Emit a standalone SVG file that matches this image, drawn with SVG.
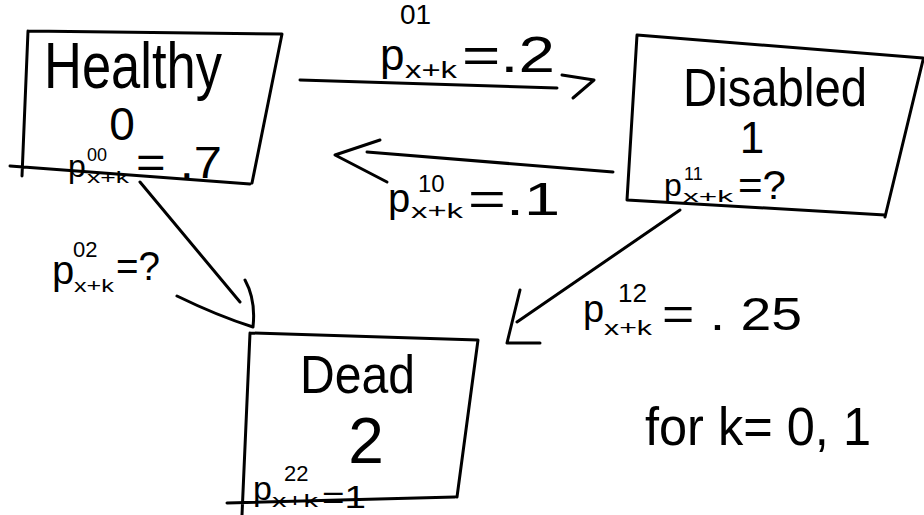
<svg xmlns="http://www.w3.org/2000/svg" width="924" height="515" viewBox="0 0 924 515">
<style>
.ln{fill:none;stroke:#000;stroke-width:3;stroke-linecap:round;stroke-linejoin:round}
.t{font-family:"Liberation Sans",Arial,sans-serif;fill:#000}
</style>
<rect width="924" height="515" fill="#fff"/>
<g id="connectors">
  <g id="edge-01">
    <path class="ln" d="M300,80 L557,88"/>
    <path class="ln" d="M562,75 L594,80 L573,98"/>
    <text class="t" x="380" y="70" font-size="44">p</text>
    <text class="t" x="400" y="24" font-size="28">01</text>
    <text class="t" x="405" y="78" font-size="24" textLength="52" lengthAdjust="spacingAndGlyphs">x+k</text>
    <text class="t" x="462" y="72" font-size="50" textLength="93" lengthAdjust="spacingAndGlyphs">=.2</text>
  </g>
  <g id="edge-10">
    <path class="ln" d="M367,152 L613,172"/>
    <path class="ln" d="M380,140 L335,155 L387,182"/>
    <text class="t" x="388" y="212" font-size="40">p</text>
    <text class="t" x="418" y="192" font-size="24">10</text>
    <text class="t" x="411" y="218" font-size="20" textLength="52" lengthAdjust="spacingAndGlyphs">x+k</text>
    <text class="t" x="468" y="215" font-size="46" textLength="92" lengthAdjust="spacingAndGlyphs">=.1</text>
  </g>
  <g id="edge-02">
    <path class="ln" d="M140,182 L240,302"/>
    <path class="ln" d="M177,296 Q218,316 253,327 Q256,300 245,280"/>
    <text class="t" x="52" y="284" font-size="40">p</text>
    <text class="t" x="73" y="257" font-size="22">02</text>
    <text class="t" x="74" y="292" font-size="19" textLength="40" lengthAdjust="spacingAndGlyphs">x+k</text>
    <text class="t" x="116" y="280" font-size="40" textLength="44" lengthAdjust="spacingAndGlyphs">=?</text>
  </g>
  <g id="edge-12">
    <path class="ln" d="M680,210 L517,322"/>
    <path class="ln" d="M520,290 L507,343 L540,343"/>
    <text class="t" x="583" y="322" font-size="38">p</text>
    <text class="t" x="618" y="302" font-size="26">12</text>
    <text class="t" x="604" y="335" font-size="21" textLength="48" lengthAdjust="spacingAndGlyphs">x+k</text>
    <text class="t" x="662" y="330" font-size="46" textLength="140" lengthAdjust="spacingAndGlyphs">= . 25</text>
  </g>
</g>
<g id="healthy">
  <path class="ln" d="M28,31 L282,34 L252,183 M10,166 L250,184 M28,31 L22,176"/>
  <text class="t" x="44" y="88" font-size="64" textLength="178" lengthAdjust="spacingAndGlyphs">Healthy</text>
  <text class="t" x="122" y="140" font-size="46" text-anchor="middle">0</text>
  <text class="t" x="68" y="177" font-size="32">p</text>
  <text class="t" x="87" y="161" font-size="18">00</text>
  <text class="t" x="87" y="183" font-size="17" textLength="42" lengthAdjust="spacingAndGlyphs">x+k</text>
  <text class="t" x="136" y="178" font-size="44" textLength="86" lengthAdjust="spacingAndGlyphs">= .7</text>
</g>
<g id="disabled">
  <path class="ln" d="M637,35 L923,58 M923,60 L885,217 M627,200 L885,215 M637,35 L627,200"/>
  <text class="t" x="683" y="106" font-size="54" textLength="184" lengthAdjust="spacingAndGlyphs">Disabled</text>
  <text class="t" x="752" y="153" font-size="44" text-anchor="middle">1</text>
  <text class="t" x="664" y="196" font-size="32">p</text>
  <text class="t" x="684" y="180" font-size="18">11</text>
  <text class="t" x="683" y="202" font-size="17" textLength="50" lengthAdjust="spacingAndGlyphs">x+k</text>
  <text class="t" x="738" y="199" font-size="40" textLength="48" lengthAdjust="spacingAndGlyphs">=?</text>
</g>
<g id="dead">
  <path class="ln" d="M250,333 L478,340 L457,497 M227,503 L455,497 M250,333 L242,515"/>
  <text class="t" x="300" y="393" font-size="54" textLength="115" lengthAdjust="spacingAndGlyphs">Dead</text>
  <text class="t" x="366" y="463" font-size="64" text-anchor="middle">2</text>
  <text class="t" x="253" y="500" font-size="34">p</text>
  <text class="t" x="284" y="481" font-size="22">22</text>
  <text class="t" x="272" y="507" font-size="18" textLength="46" lengthAdjust="spacingAndGlyphs">x+k</text>
  <text class="t" x="322" y="508" font-size="32" textLength="44" lengthAdjust="spacingAndGlyphs">=1</text>
</g>
<g id="note">
  <text class="t" x="645" y="445" font-size="54" textLength="226" lengthAdjust="spacingAndGlyphs">for k= 0, 1</text>
</g>
</svg>
